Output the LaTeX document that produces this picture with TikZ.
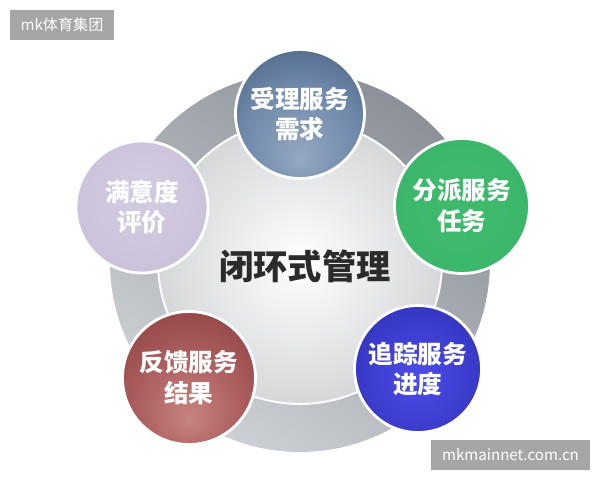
\documentclass[tikz,border=0pt]{standalone}
\usepackage{fontspec}
\newfontfamily\cjk{Noto Sans CJK SC}
\usetikzlibrary{shadings}
\definecolor{labelgray}{HTML}{A6A6A6}
\definecolor{centertext}{HTML}{2B2B2B}
\definecolor{ringdark}{HTML}{8C9199}
\definecolor{ringlight}{HTML}{CDD0D4}
\definecolor{discedge}{HTML}{D6D7D9}
\pgfdeclareradialshading{topball}{\pgfpoint{0bp}{-18bp}}{rgb(0bp)=(0.58,0.66,0.76); rgb(22bp)=(0.44,0.54,0.67); rgb(42bp)=(0.26,0.36,0.49); rgb(60bp)=(0.20,0.29,0.42)}
\pgfdeclareradialshading{lavball}{\pgfpoint{0bp}{5bp}}{rgb(0bp)=(0.83,0.80,0.88); rgb(50bp)=(0.77,0.73,0.84); rgb(60bp)=(0.75,0.71,0.82)}
\pgfdeclareradialshading{greenball}{\pgfpoint{0bp}{0bp}}{rgb(0bp)=(0.25,0.73,0.43); rgb(40bp)=(0.22,0.71,0.41); rgb(50bp)=(0.17,0.64,0.36); rgb(60bp)=(0.17,0.64,0.36)}
\pgfdeclareradialshading{redball}{\pgfpoint{0bp}{-16bp}}{rgb(0bp)=(0.78,0.52,0.51); rgb(22bp)=(0.66,0.35,0.35); rgb(44bp)=(0.52,0.22,0.23); rgb(60bp)=(0.47,0.19,0.20)}
\pgfdeclareradialshading{blueball}{\pgfpoint{0bp}{-4bp}}{rgb(0bp)=(0.30,0.30,0.92); rgb(28bp)=(0.21,0.21,0.76); rgb(46bp)=(0.12,0.12,0.52); rgb(60bp)=(0.10,0.10,0.46)}
\tikzset{
  ball/.style={circle, minimum size=2.6cm, inner sep=0pt, draw=white, line width=1.6pt,
    text=white, align=center, font=\cjk\bfseries\fontsize{14}{17.5}\selectfont},
  tag/.style={fill=labelgray, text=white, inner sep=0pt, font=\cjk\fontsize{8.6}{10}\selectfont}
}
\begin{document}
\begin{tikzpicture}[x=0.02cm,y=-0.02cm]
\useasboundingbox (0,0) rectangle (600,480);
\fill[white] (0,0) rectangle (600,480);
% ring
\shade[top color=ringdark, bottom color=ringlight, shading angle=-35] (300,262) circle[radius=3.8cm];
\shade[inner color=white, outer color=discedge, draw=white!96!gray, line width=1.2pt] (300,262) circle[radius=2.84cm];
\node[font=\cjk\bfseries\fontsize{19.5}{22}\selectfont, text=centertext] (center) at (305,266) {闭环式管理};
% balls
\node[ball, shading=topball, minimum size=2.58cm] (b1) at (300,114) {受理服务\\需求};
\node[ball, shading=lavball, minimum size=2.64cm] (b2) at (142,207) {满意度\\评价};
\node[ball, shading=greenball, minimum size=2.7cm] (b3) at (462,206) {分派服务\\任务};
\node[ball, shading=redball, minimum size=2.66cm] (b4) at (189,378) {反馈服务\\结果};
\node[ball, shading=blueball, minimum size=2.54cm] (b5) at (418,369) {追踪服务\\进度};
% labels
\node[tag, minimum width=2.08cm, minimum height=0.6cm] (t1) at (62,25) {mk体育集团};
\node[tag, minimum width=3.18cm, minimum height=0.6cm] (t2) at (510.5,455) {mkmainnet.com.cn};
\end{tikzpicture}
\end{document}
